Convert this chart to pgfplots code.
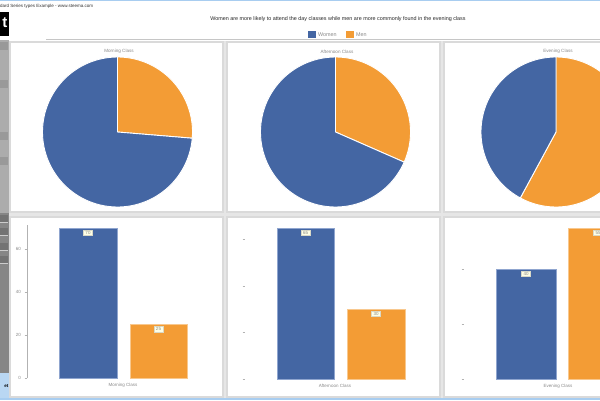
\documentclass[border=0pt]{standalone}
\usepackage{fontspec}
\setmainfont{Liberation Sans}
\usepackage{pgfplots}
\pgfplotsset{compat=1.18}
\definecolor{wblue}{HTML}{4466A3}
\definecolor{morange}{HTML}{F39C35}
\definecolor{wblueedge}{HTML}{8FA5CF}
\definecolor{moredge}{HTML}{F8C88E}
\definecolor{gapgray}{HTML}{E6E6E6}
\definecolor{framegray}{HTML}{DADADA}
\definecolor{txtgray}{HTML}{8A8A8A}
\definecolor{lblfill}{HTML}{FFFFE6}
\definecolor{winblue}{HTML}{A8CDF0}
\newcommand{\fs}[1]{\fontsize{#1}{#1}\selectfont}
\pgfplotsset{
  pie/.style={scale only axis, width=150pt, height=150pt,
    xmin=-1, xmax=1, ymin=-1, ymax=1, hide axis, anchor=origin, clip=false},
  barax/.style={scale only axis, width=192pt, ymin=0, anchor=south west,
    axis lines*=left, x axis line style={draw=none},
    y axis line style={draw=gray!60, line width=0.6pt},
    tick align=outside, major tick length=2.5pt,
    ytick style={draw=gray!60, line width=0.5pt}, xtick style={draw=none},
    ticklabel style={font=\fs{4.5}, text=txtgray},
    xticklabel style={yshift=1pt},
    /pgf/number format/assume math mode=true, clip=false},
  wbar/.style={ybar, bar shift=0pt, fill=wblue, draw=wblueedge, line width=0.6pt,
    nodes near coords,
    every node near coord/.append style={anchor=north, yshift=-2pt, font=\fs{4.5},
      text=txtgray, fill=lblfill, draw=lblfill!70!gray, line width=0.3pt,
      inner xsep=2pt, inner ysep=1pt}},
  mbar/.style={ybar, bar shift=0pt, fill=morange, draw=moredge, line width=0.6pt,
    nodes near coords,
    every node near coord/.append style={anchor=north, yshift=-2pt, font=\fs{4.5},
      text=txtgray, fill=lblfill, draw=lblfill!70!gray, line width=0.3pt,
      inner xsep=2pt, inner ysep=1pt}},
  wedge/.style={draw=white, line width=0.9pt, samples=90}
}
\begin{document}
\begin{tikzpicture}[x=1pt,y=1pt]
\useasboundingbox (0,0) rectangle (600,400);
\clip (0,0) rectangle (600,400);
\fill[white] (0,0) rectangle (600,400);
% window chrome
\fill[winblue] (0,399) rectangle (600,400);
\fill[winblue] (0,0) rectangle (600,2);
\node[anchor=west, inner sep=0pt, font=\fs{4.5}, text=black!80] at (0,394) {dard Series types Example - www.steema.com};
\fill[black] (0,364) rectangle (8.5,388);
\node[anchor=east, inner sep=0pt, font=\fs{15}\bfseries, text=white] at (7.5,377) {t};
\fill[gray!65] (0,187) rectangle (9,360);
\fill[gray!95!white] (0,27) rectangle (9,187);
\foreach \yy in {350,312,260,235} {\fill[gray!80] (0,\yy) rectangle (8,\yy+8);}
\foreach \yy in {178,165,150,137} {\fill[gray!110!white] (0,\yy) rectangle (8,\yy+7);\draw[gray!40,line width=0.4pt] (0,\yy) -- (8,\yy);}
\fill[winblue!80!white] (0,2) rectangle (9,27);
\node[anchor=east, inner sep=0pt, font=\fs{4.5}\bfseries] at (8.5,14) {et};
% title and legend
\node[font=\fs{5.4}, text=black!85, inner sep=0pt] at (338,381) {Women are more likely to attend the day classes while men are more commonly found in the evening class};
\fill[wblue] (308,362) rectangle (316,369);
\node[anchor=west, font=\fs{5.4}, text=txtgray, inner sep=0pt] at (318,365.5) {Women};
\fill[morange] (346,362) rectangle (354,369);
\node[anchor=west, font=\fs{5.4}, text=txtgray, inner sep=0pt] at (356,365.5) {Men};
% panel background
\fill[gapgray] (9,2) rectangle (600,359);
\draw[gray!45, line width=1pt] (46,360) -- (600,360);
\foreach \xa in {9,226,443} {
  \filldraw[fill=white, draw=framegray, line width=1.2pt] (\xa+1,188) rectangle (\xa+214,358);
  \filldraw[fill=white, draw=framegray, line width=1.2pt] (\xa+1,3) rectangle (\xa+214,183);
}
% pie titles
\node[font=\fs{4.6}, text=txtgray, inner sep=0pt] at (119,348.5) {Morning Class};
\node[font=\fs{4.6}, text=txtgray, inner sep=0pt] at (337,348.5) {Afternoon Class};
\node[font=\fs{4.6}, text=txtgray, inner sep=0pt] at (558,348.5) {Evening Class};
% ---- pies: women / men counts per class ----
\pgfmathsetmacro\amorn{90-360/(70+25)*25}
\pgfmathsetmacro\aaft{90-360/(65+30)*30}
\pgfmathsetmacro\aeve{90-360/(40+55)*55}
\begin{axis}[pie, at={(117.5pt,268pt)}]
\addplot[wedge, fill=morange, domain=\amorn:90] ({cos(x)},{sin(x)}) -- (axis cs:0,0) -- cycle;
\addplot[wedge, fill=wblue, domain=-270:\amorn] ({cos(x)},{sin(x)}) -- (axis cs:0,0) -- cycle;
\end{axis}
\begin{axis}[pie, at={(335.5pt,268pt)}]
\addplot[wedge, fill=morange, domain=\aaft:90] ({cos(x)},{sin(x)}) -- (axis cs:0,0) -- cycle;
\addplot[wedge, fill=wblue, domain=-270:\aaft] ({cos(x)},{sin(x)}) -- (axis cs:0,0) -- cycle;
\end{axis}
\begin{axis}[pie, at={(556pt,268pt)}]
\addplot[wedge, fill=morange, domain=\aeve:90] ({cos(x)},{sin(x)}) -- (axis cs:0,0) -- cycle;
\addplot[wedge, fill=wblue, domain=-270:\aeve] ({cos(x)},{sin(x)}) -- (axis cs:0,0) -- cycle;
\end{axis}
% ---- bars ----
\begin{axis}[barax, at={(27pt,22pt)}, height=153pt, xmin=27, xmax=219, ymax=71.4,
  ytick={0,20,40,60}, xtick={123}, xticklabels={Morning Class}]
\addplot[wbar, bar width=58] coordinates {(88,70)};
\addplot[mbar, bar width=57] coordinates {(158.5,25)};
\end{axis}
\begin{axis}[barax, at={(245pt,21pt)}, height=151pt, xmin=245, xmax=437, ymax=65,
  y axis line style={draw=none}, ytick={0,20,40,60}, yticklabels={},
  xtick={335}, xticklabels={Afternoon Class}]
\addplot[wbar, bar width=57] coordinates {(305.5,65)};
\addplot[mbar, bar width=58] coordinates {(376,30)};
\end{axis}
\begin{axis}[barax, at={(464pt,21pt)}, height=151pt, xmin=464, xmax=656, ymax=55,
  y axis line style={draw=none}, ytick={0,20,40}, yticklabels={},
  xtick={558}, xticklabels={Evening Class}]
\addplot[wbar, bar width=60] coordinates {(526,40)};
\addplot[mbar, bar width=60] coordinates {(598,55)};
\end{axis}
\end{tikzpicture}
\end{document}
